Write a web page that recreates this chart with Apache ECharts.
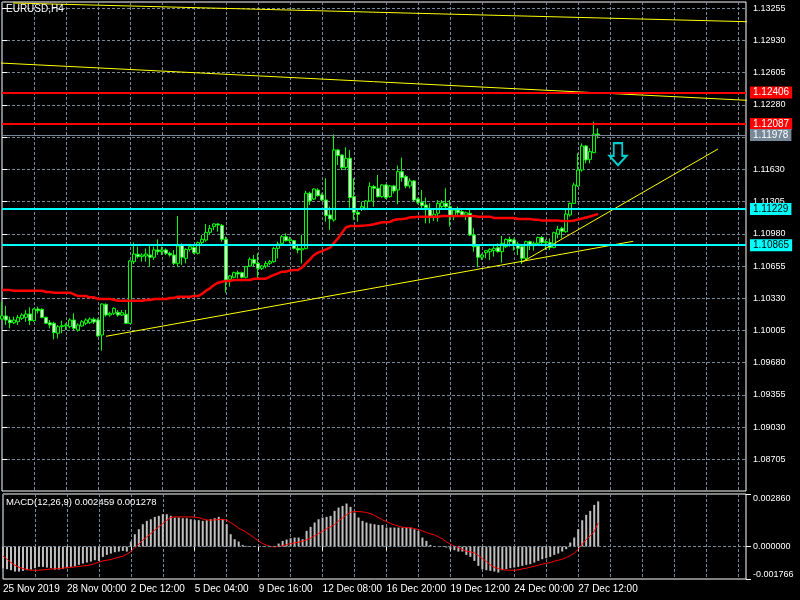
<!DOCTYPE html>
<html><head><meta charset="utf-8">
<script src="https://cdn.jsdelivr.net/npm/echarts@6/dist/echarts.min.js"></script>
<style>html,body{margin:0;padding:0;background:#000}#c{width:800px;height:600px}</style>
</head><body><div id="c"></div><script>
// ---------- DATA (EURUSD H4, one entry per bar) ----------
const open = [1.10120,1.10151,1.10110,1.10083,1.10093,1.10127,1.10137,1.10171,1.10104,1.10221,
1.10218,1.10137,1.10083,1.10077,1.09976,1.10043,1.10050,1.10043,1.10110,1.10009,
1.10050,1.10077,1.10083,1.10117,1.10110,1.09959,1.10268,1.10161,1.10178,1.10188,
1.10161,1.10168,1.10077,1.10699,1.10773,1.10749,1.10756,1.10766,1.10743,1.10817,
1.10800,1.10817,1.10783,1.10766,1.10682,1.10867,1.10732,1.10823,1.10843,1.10783,
1.10891,1.10917,1.10995,1.11052,1.11079,1.11065,1.10924,1.10521,1.10541,1.10588,
1.10588,1.10541,1.10655,1.10722,1.10682,1.10632,1.10655,1.10682,1.10699,1.10833,
1.10884,1.10951,1.10911,1.10911,1.10833,1.10817,1.10830,1.11389,1.11331,1.11422,
1.11372,1.11321,1.11170,1.11120,1.11826,1.11775,1.11648,1.11742,1.11355,1.11197,
1.11237,1.11237,1.11311,1.11456,1.11439,1.11355,1.11473,1.11355,1.11463,1.11422,
1.11607,1.11557,1.11463,1.11513,1.11331,1.11298,1.11271,1.11237,1.11153,1.11187,
1.11254,1.11288,1.11254,1.11153,1.11220,1.11204,1.11170,1.11187,1.10968,1.10857,
1.10743,1.10790,1.10800,1.10810,1.10840,1.10800,1.10850,1.10924,1.10918,1.10877,
1.10850,1.10733,1.10901,1.10860,1.10884,1.10943,1.10891,1.10891,1.10843,1.10978,
1.11035,1.11001,1.11170,1.11287,1.11462,1.11624,1.11866,1.11731,1.11799,1.11987];
const high = [1.10295,1.10252,1.10144,1.10144,1.10161,1.10178,1.10211,1.10238,1.10228,1.10245,
1.10228,1.10144,1.10110,1.10093,1.10060,1.10104,1.10077,1.10127,1.10178,1.10077,
1.10110,1.10127,1.10137,1.10137,1.10127,1.10278,1.10278,1.10194,1.10238,1.10211,
1.10211,1.10211,1.10716,1.10891,1.10850,1.10783,1.10833,1.10857,1.10850,1.10924,
1.10850,1.10833,1.10800,1.10817,1.11160,1.10884,1.10833,1.10867,1.10857,1.10901,
1.10968,1.11079,1.11069,1.11086,1.11086,1.11079,1.10951,1.10564,1.10598,1.10608,
1.10598,1.10655,1.10743,1.10766,1.10783,1.10665,1.10706,1.10716,1.10850,1.10901,
1.10968,1.10985,1.10951,1.10917,1.10857,1.10968,1.11412,1.11405,1.11439,1.11439,
1.11389,1.11540,1.11254,1.11984,1.11836,1.11782,1.11853,1.11826,1.11540,1.11220,
1.11305,1.11321,1.11500,1.11473,1.11574,1.11479,1.11479,1.11473,1.11473,1.11668,
1.11748,1.11574,1.11540,1.11523,1.11345,1.11422,1.11345,1.11288,1.11220,1.11321,
1.11321,1.11439,1.11321,1.11237,1.11254,1.11220,1.11204,1.11220,1.11035,1.10867,
1.10780,1.10817,1.10834,1.10867,1.10884,1.10958,1.10934,1.10951,1.10934,1.10901,
1.10857,1.10911,1.10911,1.10901,1.10951,1.10958,1.10924,1.10934,1.11001,1.11059,
1.11052,1.11227,1.11294,1.11496,1.11792,1.11893,1.11876,1.11842,1.12111,1.12044];
const low = [1.10110,1.10060,1.10026,1.10070,1.10060,1.10110,1.10093,1.10060,1.10093,1.10178,
1.10127,1.10070,1.10026,1.09915,1.09925,1.09976,1.10009,1.10026,1.10009,1.09993,
1.10043,1.10060,1.10070,1.10070,1.09942,1.09801,1.10144,1.10144,1.10161,1.10144,
1.10151,1.10070,1.10070,1.10675,1.10732,1.10699,1.10699,1.10648,1.10716,1.10766,
1.10766,1.10766,1.10749,1.10665,1.10648,1.10665,1.10682,1.10800,1.10776,1.10773,
1.10877,1.10901,1.10968,1.11018,1.11002,1.10901,1.10386,1.10447,1.10531,1.10531,
1.10531,1.10531,1.10648,1.10648,1.10514,1.10615,1.10632,1.10665,1.10689,1.10732,
1.10877,1.10901,1.10884,1.10823,1.10783,1.10682,1.10823,1.11271,1.11321,1.11355,
1.11311,1.11103,1.11019,1.11103,1.11674,1.11624,1.11624,1.11244,1.11120,1.11103,
1.11210,1.11237,1.11305,1.11254,1.11345,1.11345,1.11331,1.11345,1.11389,1.11278,
1.11506,1.11439,1.11439,1.11311,1.11278,1.11237,1.11086,1.11086,1.11110,1.11103,
1.11237,1.11220,1.11052,1.11119,1.11170,1.11153,1.11119,1.10958,1.10800,1.10642,
1.10716,1.10733,1.10716,1.10750,1.10790,1.10689,1.10834,1.10850,1.10810,1.10766,
1.10676,1.10716,1.10817,1.10810,1.10877,1.10870,1.10817,1.10817,1.10833,1.10934,
1.10934,1.10991,1.11153,1.11281,1.11455,1.11607,1.11691,1.11691,1.11792,1.11943];
const close = [1.10151,1.10110,1.10083,1.10110,1.10137,1.10161,1.10171,1.10104,1.10221,1.10204,
1.10137,1.10077,1.10060,1.09983,1.10043,1.10053,1.10060,1.10110,1.10026,1.10060,
1.10093,1.10110,1.10120,1.10090,1.09949,1.10272,1.10161,1.10178,1.10228,1.10161,
1.10184,1.10077,1.10706,1.10776,1.10749,1.10766,1.10776,1.10743,1.10817,1.10800,
1.10817,1.10783,1.10766,1.10682,1.10857,1.10743,1.10823,1.10850,1.10790,1.10891,
1.10924,1.10995,1.11035,1.11079,1.11069,1.10924,1.10514,1.10554,1.10588,1.10574,
1.10541,1.10648,1.10722,1.10682,1.10632,1.10655,1.10682,1.10699,1.10833,1.10877,
1.10951,1.10911,1.10925,1.10833,1.10817,1.10830,1.11389,1.11311,1.11432,1.11365,
1.11321,1.11163,1.11130,1.11826,1.11769,1.11648,1.11742,1.11345,1.11197,1.11177,
1.11254,1.11311,1.11456,1.11439,1.11355,1.11473,1.11345,1.11463,1.11412,1.11607,
1.11547,1.11463,1.11513,1.11321,1.11298,1.11264,1.11244,1.11153,1.11177,1.11288,
1.11294,1.11254,1.11153,1.11220,1.11193,1.11170,1.11193,1.10968,1.10850,1.10743,
1.10766,1.10810,1.10823,1.10834,1.10800,1.10884,1.10924,1.10901,1.10877,1.10834,
1.10733,1.10901,1.10860,1.10884,1.10943,1.10891,1.10901,1.10843,1.10991,1.11025,
1.11005,1.11180,1.11287,1.11472,1.11624,1.11866,1.11725,1.11809,1.11987,1.11978];
// red moving average
const movingAvg = [1.10413,1.10413,1.10413,1.10406,1.10406,1.10406,1.10406,1.10406,1.10406,1.10406,
1.10406,1.10393,1.10393,1.10386,1.10386,1.10386,1.10386,1.10386,1.10369,1.10352,
1.10352,1.10352,1.10339,1.10339,1.10322,1.10322,1.10322,1.10322,1.10315,1.10305,
1.10305,1.10305,1.10305,1.10305,1.10305,1.10305,1.10312,1.10312,1.10322,1.10322,
1.10322,1.10322,1.10332,1.10332,1.10346,1.10346,1.10346,1.10346,1.10352,1.10352,
1.10373,1.10406,1.10430,1.10463,1.10487,1.10497,1.10504,1.10504,1.10514,1.10514,
1.10514,1.10514,1.10514,1.10527,1.10527,1.10527,1.10527,1.10547,1.10565,1.10581,
1.10598,1.10598,1.10610,1.10615,1.10615,1.10640,1.10682,1.10722,1.10766,1.10790,
1.10806,1.10823,1.10840,1.10890,1.10934,1.10991,1.11045,1.11059,1.11059,1.11059,
1.11062,1.11065,1.11069,1.11076,1.11086,1.11096,1.11096,1.11100,1.11120,1.11126,
1.11130,1.11135,1.11146,1.11148,1.11153,1.11153,1.11153,1.11153,1.11153,1.11153,
1.11160,1.11160,1.11160,1.11160,1.11160,1.11160,1.11160,1.11160,1.11160,1.11153,
1.11153,1.11153,1.11153,1.11140,1.11140,1.11140,1.11140,1.11140,1.11140,1.11130,
1.11130,1.11130,1.11130,1.11123,1.11123,1.11113,1.11113,1.11113,1.11113,1.11113,
1.11108,1.11108,1.11108,1.11115,1.11125,1.11135,1.11145,1.11155,1.11168,1.11180];
// MACD(12,26,9): main (histogram) and signal
const macdMain = [-0.001179,-0.001234,-0.001288,-0.001361,-0.001361,-0.001324,-0.001288,-0.001252,-0.001179,-0.001107,
-0.001107,-0.001143,-0.001179,-0.001252,-0.001252,-0.001215,-0.001179,-0.001107,-0.001070,-0.000998,
-0.000925,-0.000871,-0.000816,-0.000744,-0.000780,-0.000562,-0.000454,-0.000381,-0.000308,-0.000272,
-0.000236,-0.000272,0.000272,0.000671,0.000943,0.001215,0.001397,0.001487,0.001614,0.001669,
0.001760,0.001760,0.001669,0.001578,0.001578,0.001542,0.001542,0.001487,0.001433,0.001433,
0.001397,0.001433,0.001487,0.001542,0.001614,0.001487,0.001215,0.000671,0.000399,0.000272,
0.000091,0.000036,0.000018,-0.000010,0.000018,0.000018,0.000005,0.000018,0.000036,0.000163,
0.000308,0.000381,0.000454,0.000490,0.000490,0.000399,0.000853,0.001070,0.001306,0.001487,
0.001578,0.001614,0.001669,0.001941,0.002122,0.002213,0.002340,0.002159,0.001850,0.001578,
0.001397,0.001306,0.001252,0.001215,0.001179,0.001179,0.001034,0.001034,0.001034,0.001034,
0.001034,0.001034,0.001034,0.000943,0.000853,0.000490,0.000308,0.000091,-0.000005,-0.000018,
-0.000018,-0.000054,-0.000145,-0.000200,-0.000272,-0.000272,-0.000454,-0.000562,-0.000780,-0.001052,
-0.001234,-0.001288,-0.001324,-0.001361,-0.001415,-0.001288,-0.001234,-0.001179,-0.001143,-0.001107,
-0.001052,-0.000998,-0.000961,-0.000871,-0.000780,-0.000689,-0.000635,-0.000562,-0.000454,-0.000381,
-0.000272,-0.000145,0.000218,0.000490,0.000943,0.001433,0.001723,0.001941,0.002268,0.002459];
const macdSignal = [-0.000508,-0.000689,-0.000871,-0.001016,-0.001125,-0.001197,-0.001252,-0.001288,-0.001288,-0.001288,
-0.001270,-0.001252,-0.001215,-0.001215,-0.001197,-0.001179,-0.001143,-0.001125,-0.001107,-0.001088,
-0.001052,-0.001034,-0.000998,-0.000925,-0.000853,-0.000780,-0.000744,-0.000707,-0.000635,-0.000580,
-0.000526,-0.000417,-0.000272,-0.000054,0.000127,0.000345,0.000526,0.000707,0.000889,0.001070,
0.001252,0.001433,0.001578,0.001614,0.001614,0.001614,0.001614,0.001614,0.001596,0.001578,
0.001506,0.001451,0.001433,0.001451,0.001469,0.001487,0.001433,0.001306,0.001161,0.000998,
0.000889,0.000762,0.000617,0.000454,0.000308,0.000163,0.000073,0.000000,-0.000018,0.000000,
0.000036,0.000109,0.000163,0.000200,0.000236,0.000290,0.000363,0.000454,0.000580,0.000707,
0.000834,0.000961,0.001070,0.001197,0.001397,0.001560,0.001723,0.001868,0.001905,0.001905,
0.001887,0.001850,0.001796,0.001687,0.001578,0.001451,0.001361,0.001252,0.001179,0.001107,
0.001052,0.001034,0.001016,0.000980,0.000925,0.000853,0.000762,0.000689,0.000635,0.000526,
0.000417,0.000254,0.000127,0.000018,-0.000054,-0.000163,-0.000254,-0.000290,-0.000345,-0.000490,
-0.000653,-0.000816,-0.000998,-0.001125,-0.001197,-0.001252,-0.001288,-0.001288,-0.001288,-0.001270,
-0.001215,-0.001179,-0.001125,-0.001070,-0.001016,-0.000961,-0.000907,-0.000871,-0.000798,-0.000744,
-0.000689,-0.000599,-0.000490,-0.000363,-0.000145,0.000127,0.000381,0.000580,0.000816,0.001278];
// horizontal levels
const redLevels = [1.12406, 1.12087];
const cyanLevels = [1.11229, 1.10865];
const bidPrice = 1.11978;
// trend lines: [[barIndex, price], [barIndex, price]]
const trendLines = [
  [[2.75, 1.133085], [186.25, 1.131198]],
  [[-0.5, 1.127031], [186.25, 1.123268]],
  [[26, 1.099459], [157.8, 1.109043]],
  [[129.9, 1.106925], [179, 1.118355]]
];
const sellArrow = [[154, 1.11783]];
// axis tick labels
const priceTicks = [1.08705,1.09030,1.09355,1.09680,1.10005,1.10330,1.10655,1.10980,1.11305,1.11630,1.11955,1.12280,1.12605,1.12930,1.13255];
const macdTicks = [-0.001766, 0, 0.002860];
const timeLabels = ['25 Nov 2019','28 Nov 00:00','2 Dec 12:00','5 Dec 04:00','9 Dec 16:00','12 Dec 08:00','16 Dec 20:00','19 Dec 12:00','24 Dec 00:00','27 Dec 12:00'];
const barSlots = 187;   // bars that fit the window, incl. empty right shift
const labelEvery = 16;
const gridEvery = 8;

// ---------- CHART ----------
const FONT = 'Liberation Sans, Arial, sans-serif';
const GRIDC = '#778899';
const cats = Array.from({length: barSlots}, (_, i) => String(i));
const candles = open.map((o, i) => [o, close[i], low[i], high[i]]);
const dash = {color: GRIDC, type: [3, 2], width: 1};

function levelLine(v, color, width, txtColor) {
  return {
    yAxis: v,
    lineStyle: {color: color, width: width, type: 'solid'},
    label: {show: true, position: 'end', distance: 4, formatter: v.toFixed(5),
      backgroundColor: color, color: txtColor, padding: [1, 3, 1, 3],
      fontSize: 10, lineHeight: 10, fontFamily: FONT}
  };
}

const option = {
  backgroundColor: '#000',
  animation: false,
  title: [
    {text: 'EURUSD,H4', left: 6, top: 4, padding: 0,
      textStyle: {color: '#fff', fontSize: 10, fontWeight: 'normal', fontFamily: FONT}},
    {text: 'MACD(12,26,9) 0.002459 0.001278', left: 6, top: 497, padding: 0,
      textStyle: {color: '#fff', fontSize: 9.5, fontWeight: 'normal', fontFamily: FONT}}
  ],
  grid: [
    {left: 2, top: 2, width: 744, height: 489, show: true, borderColor: '#fff', borderWidth: 1, backgroundColor: 'transparent'},
    {left: 2, top: 494, width: 744, height: 85, show: true, borderColor: '#fff', borderWidth: 1, backgroundColor: 'transparent'}
  ],
  xAxis: [
    {type: 'category', gridIndex: 0, data: cats, boundaryGap: false,
      axisLine: {show: false}, axisTick: {show: false}, axisLabel: {show: false},
      splitLine: {show: true, interval: (i) => i % gridEvery === 0, lineStyle: dash}},
    {type: 'category', gridIndex: 1, data: cats, boundaryGap: false,
      axisLine: {show: false},
      axisTick: {show: true, interval: (i) => i % labelEvery === 0 && i / labelEvery < timeLabels.length, length: 4, lineStyle: {color: '#fff'}},
      axisLabel: {show: true, interval: (i) => i % labelEvery === 0 && i / labelEvery < timeLabels.length,
        formatter: (v, i) => timeLabels[Math.round(i / labelEvery)] || '',
        align: 'left', margin: 5, color: '#fff', fontSize: 10, fontFamily: FONT},
      splitLine: {show: true, interval: (i) => i % gridEvery === 0, lineStyle: dash}},
    {type: 'value', gridIndex: 0, min: 0, max: barSlots - 1, show: false}
  ],
  yAxis: [
    {type: 'value', gridIndex: 0, position: 'right', min: 1.083852, max: 1.133186, scale: true,
      axisLine: {show: false},
      axisTick: {show: true, customValues: priceTicks, length: 5, lineStyle: {color: '#fff'}},
      axisLabel: {show: true, customValues: priceTicks, formatter: (v) => v.toFixed(5),
        color: '#fff', fontSize: 9, margin: 7, fontFamily: FONT},
      splitLine: {show: true, lineStyle: dash}},
    {type: 'value', gridIndex: 1, position: 'right', min: -0.001766, max: 0.002860,
      axisLine: {show: false},
      axisTick: {show: true, customValues: macdTicks, length: 5, lineStyle: {color: '#fff'}},
      axisLabel: {show: true, customValues: macdTicks, formatter: (v) => v.toFixed(6),
        color: '#fff', fontSize: 9, margin: 7, fontFamily: FONT,
        verticalAlignMinLabel: 'bottom', verticalAlignMaxLabel: 'top'},
      splitLine: {show: false}}
  ],
  series: [
    {type: 'candlestick', xAxisIndex: 0, yAxisIndex: 0, data: candles, barWidth: 3,
      itemStyle: {color: '#000', color0: '#fff', borderColor: '#00ff00', borderColor0: '#00ff00', borderWidth: 1},
      markLine: {symbol: ['none', 'none'], silent: true, animation: false, precision: 6,
        data: [
          levelLine(redLevels[0], '#ff0000', 2, '#fff'),
          levelLine(redLevels[1], '#ff0000', 2, '#fff'),
          levelLine(bidPrice, '#778899', 1, '#fff'),
          levelLine(cyanLevels[0], '#00ffff', 2, '#000'),
          levelLine(cyanLevels[1], '#00ffff', 2, '#000')
        ]}},
    {type: 'line', xAxisIndex: 0, yAxisIndex: 0, data: movingAvg, symbol: 'none',
      lineStyle: {color: '#ff0000', width: 2.5}, z: 3},
    ...trendLines.map(tl => ({type: 'line', xAxisIndex: 2, yAxisIndex: 0, data: tl, symbol: 'none',
      lineStyle: {color: '#ffff00', width: 1}, z: 4})),
    {type: 'scatter', xAxisIndex: 2, yAxisIndex: 0, data: sellArrow,
      symbol: 'path://M4.5,0 L13.5,0 L13.5,13.3 L18,13.3 L9,23 L0,13.3 L4.5,13.3 Z',
      symbolSize: [17, 22], itemStyle: {color: 'rgba(0,0,0,0)', borderColor: '#00ffff', borderWidth: 2}, z: 5},
    {type: 'bar', xAxisIndex: 1, yAxisIndex: 1, data: macdMain, barWidth: 2,
      itemStyle: {color: '#c0c0c0'},
      markLine: {symbol: ['none', 'none'], silent: true, animation: false, label: {show: false}, precision: 6,
        data: [{yAxis: 0, lineStyle: {color: GRIDC, type: [3, 2], width: 1}}]}},
    {type: 'line', xAxisIndex: 1, yAxisIndex: 1, data: macdSignal, symbol: 'none',
      lineStyle: {color: '#ff0000', width: 1}, z: 3}
  ]
};
const chart = echarts.init(document.getElementById('c'));
chart.setOption(option);
</script></body></html>
